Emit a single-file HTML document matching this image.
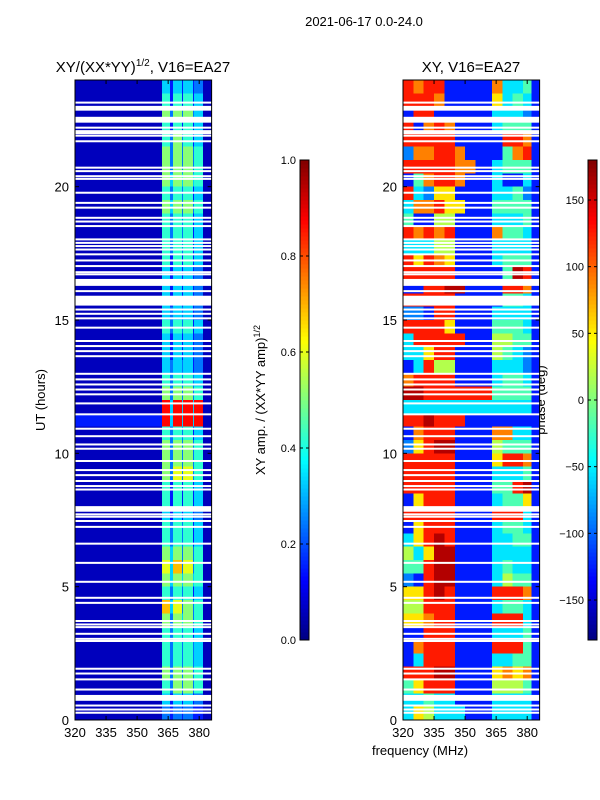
<!DOCTYPE html>
<html><head><meta charset="utf-8"><style>
body{margin:0;background:#fff;}
svg{display:block;font-family:"Liberation Sans",sans-serif;}
</style></head><body>
<svg id="fig" width="600" height="800" viewBox="0 0 600 800" xmlns="http://www.w3.org/2000/svg">
<rect width="600" height="800" fill="#fff"/>
<text x="364" y="26" font-size="13" text-anchor="middle">2021-06-17 0.0-24.0</text>
<text x="143" y="72" font-size="15" text-anchor="middle">XY/(XX*YY)<tspan font-size="10" dy="-6">1/2</tspan><tspan dy="6">, V16=EA27</tspan></text>
<text x="471" y="72" font-size="15" text-anchor="middle">XY, V16=EA27</text>
<text x="45" y="400" font-size="13" text-anchor="middle" transform="rotate(-90 45 400)">UT (hours)</text>
<text x="420" y="755" font-size="13" text-anchor="middle">frequency (MHz)</text>
<text x="265" y="400" font-size="13" text-anchor="middle" transform="rotate(-90 265 400)">XY amp. / (XX*YY amp)<tspan font-size="9" dy="-5">1/2</tspan></text>
<text x="545" y="400" font-size="13" text-anchor="middle" transform="rotate(-90 545 400)">phase (deg)</text>
<g id="left"></g>
<g id="right"></g>
<g id="axes"></g>
</svg>
<script>
// ---- data ----
const leftFreqEdges = [320,362,366,367.3,371.7,372.2,377,377.5,381.8,386];
const rightFreqEdges = [320,325,330,335,340,345,350,355,359,363,368,373,378,382,386];
// rows top (23.5-24h) to bottom (0-0.5h); chars 0-9 amplitude level
const ampRows = ["031313120","041414130","052525230","041414130","042524130","052525240","052525240","053535340",
"042424130","053525240","042424130","042424130","042424130","041414130","031313120","031313120",
"031313120","032323120","042424130","031313120","031313120","032323120","042424230","052525240",
"093939390","193939390","042424130","052525240","052525240","052626240","041414130","041414130",
"031313120","042424130","042424130","053525240","063726240","053535340","042424130","073625240",
"052535240","042424130","042424230","042424230","052525240","042525240","031313120","021212110"];
// chars 0-9 phase level
const phaseRows = ["87881111173341","88871111163431","18811111133321","81787111134441","88888111118871","27788711114781",
"88888771134441","14788711131131","83266111133421","37786611144441","41155111133341","87878111174431",
"33355111133331","86876111134441","88888111114981","11889911118871","88888111114431","22188111133331",
"88886111144431","38888811155441","33688111154321","13855111133321","78888111134431","99888888844441",
"33333333333331","88988811111111","17888111177331","26899111154441","88888111168871","88888111133341",
"88888111144891","16888111134461","88888111188831","16888111134431","36898111133441","53699111133331",
"44899111134331","21899111135441","66898111188871","55888111134431","66788111188831","11888111133341",
"17888111188841","13888111133441","88899111167671","46888111155541","33433111133331","36533311133331"];
// flagged (white) intervals in hours
const flagStarts = [23.12,22.85,22.4,22.19,21.97,21.9,21.68,20.69,20.56,20.37,20.27,19.75,19.37,19.19,18.81,18.67,18.5,18.0,17.87,17.75,17.62,17.44,17.2,17.0,16.77,16.69,16.28,16.06,15.54,15.37,15.21,15.04,14.69,14.19,14.0,13.81,13.62,12.95,12.75,12.56,12.37,12.19,11.85,11.44,10.9,10.62,10.31,10.15,9.69,9.35,9.16,8.94,8.75,8.62,7.81,7.69,7.6,7.44,7.22,6.59,5.87,5.16,4.56,4.37,3.69,3.56,3.46,3.21,3.02,2.94,1.9,1.72,1.5,1.12,0.72,0.52,0.37,0.25];
const flagEnds   = [23.19,23.03,22.62,22.25,22.12,21.95,21.74,20.75,20.62,20.43,20.33,19.81,19.43,19.25,18.87,18.73,18.56,18.06,17.93,17.81,17.68,17.5,17.27,17.06,16.83,16.75,16.54,16.12,15.91,15.43,15.27,15.1,14.75,14.25,14.06,13.87,13.68,13.02,12.81,12.62,12.43,12.25,11.91,11.5,10.96,10.68,10.37,10.21,9.75,9.41,9.22,9.0,8.81,8.68,8.02,7.75,7.66,7.5,7.28,6.65,5.93,5.22,4.62,4.43,3.75,3.62,3.52,3.27,3.08,3.0,1.96,1.78,1.56,1.18,0.94,0.58,0.43,0.31];
const yTicks = [0,5,10,15,20];
const xTicks = [320,335,350,365,380];
const ampTicks = [0.0,0.2,0.4,0.6,0.8,1.0];
const phaseTicks = [-150,-100,-50,0,50,100,150];

// ---- scales ----
const NS="http://www.w3.org/2000/svg";
const Y0=720, Y1=80, H=24;
const yS = t => Y0 - t/H*(Y0-Y1);
const xL = f => 75 + (f-320)*2.07;
const xR = f => 403 + (f-320)*2.07;
function jet(x){const c=v=>Math.round(255*Math.max(0,Math.min(1,v)));
 return `rgb(${c(1.5-Math.abs(4*x-3))},${c(1.5-Math.abs(4*x-2))},${c(1.5-Math.abs(4*x-1))})`;}
function mk(tag,attrs,parent){const e=document.createElementNS(NS,tag);for(const k in attrs)e.setAttribute(k,attrs[k]);parent.appendChild(e);return e;}
const gl=document.getElementById('left'), gr=document.getElementById('right'), ga=document.getElementById('axes');
const rowH=H/ampRows.length;

function heat(rows,edges,xs,g,name,toFrac){
 rows.forEach((r,i)=>{const tTop=H-i*rowH, tBot=tTop-rowH;
  for(let j=0;j<edges.length-1;j++){
   const v=+r[j];
   const el=mk('rect',{x:xs(edges[j]),y:yS(tTop),width:xs(edges[j+1])-xs(edges[j])+0.3,height:yS(tBot)-yS(tTop)+0.3,fill:jet(toFrac(v)),'shape-rendering':'crispEdges'},g);
   
   
  }});
 flagStarts.forEach((s,k)=>{const e=flagEnds[k];
  const el=mk('rect',{x:xs(320),y:yS(e),width:xs(386)-xs(320),height:Math.max(2,yS(s)-yS(e)),fill:'#fff'},g);
  
  
 });
}
heat(ampRows,leftFreqEdges,xL,gl,'amp-cell',v=>v*0.09+0.06);
heat(phaseRows,rightFreqEdges,xR,gr,'phase-cell',v=>(v+0.5)/10);

function axesBox(xs,name){
 const x0=xs(320),x1=xs(386);
 const b=mk('rect',{x:x0,y:Y1,width:x1-x0,height:Y0-Y1,fill:'none',stroke:'#000','stroke-width':1},ga);
 
 
 yTicks.forEach(t=>{const y=yS(t);
  mk('line',{x1:x0,x2:x0+4,y1:y,y2:y,stroke:'#000'},ga);mk('line',{x1:x1,x2:x1-4,y1:y,y2:y,stroke:'#000'},ga);
  const tx=mk('text',{x:x0-6,y:y+5,'font-size':13,'text-anchor':'end'},ga);tx.textContent=t;
  
  
 });
 xTicks.forEach(f=>{const x=xs(f);
  mk('line',{x1:x,x2:x,y1:Y0,y2:Y0-4,stroke:'#000'},ga);mk('line',{x1:x,x2:x,y1:Y1,y2:Y1+4,stroke:'#000'},ga);
  const tx=mk('text',{x:x,y:Y0+17,'font-size':13,'text-anchor':'middle'},ga);tx.textContent=f;
  
  
 });
}
axesBox(xL,'amp-axes');axesBox(xR,'phase-axes');

function colorbar(x,name,ticks,lo,hi,fmt){
 const top=160,bot=640,w=9,n=120;
 for(let i=0;i<n;i++){const el=mk('rect',{x:x,y:bot-(i+1)*(bot-top)/n,width:w,height:(bot-top)/n+0.5,fill:jet((i+0.5)/n),'shape-rendering':'crispEdges'},ga);
  
  }
 const b=mk('rect',{x:x,y:top,width:w,height:bot-top,fill:'none',stroke:'#000'},ga);
 
 
 ticks.forEach(t=>{const y=bot-(t-lo)/(hi-lo)*(bot-top);
  mk('line',{x1:x,x2:x+3,y1:y,y2:y,stroke:'#000'},ga);mk('line',{x1:x+w,x2:x+w-3,y1:y,y2:y,stroke:'#000'},ga);
  const tx=mk('text',{x:x-4,y:y+4,'font-size':11,'text-anchor':'end'},ga);tx.textContent=fmt(t);
  
  
 });
}
colorbar(300,'amp-colorbar',ampTicks,0,1,t=>t.toFixed(1));
colorbar(588,'phase-colorbar',phaseTicks,-180,180,t=>t<0?'\u2212'+(-t):''+t);
</script>
</body></html>
